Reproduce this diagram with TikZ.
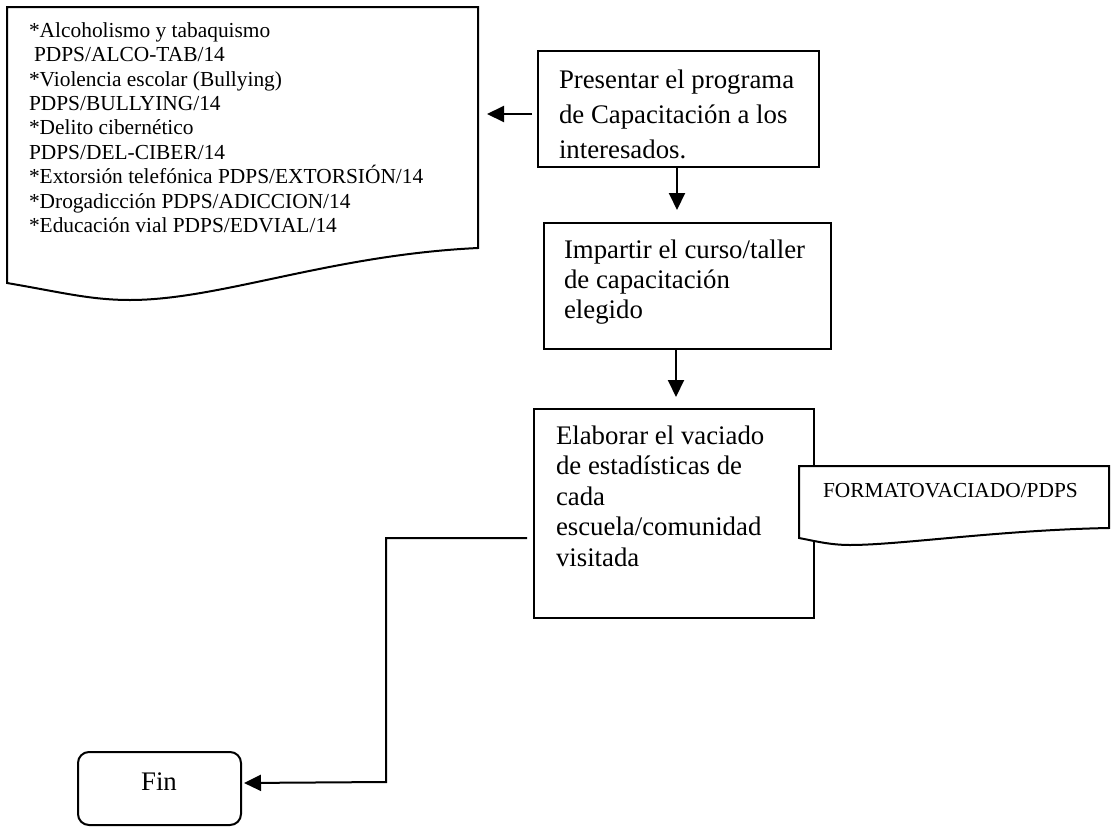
\documentclass[tikz,border=0pt]{standalone}
\usepackage{fontspec}
\setmainfont{Liberation Serif}
\usetikzlibrary{arrows.meta}

\begin{document}
\begin{tikzpicture}[x=1pt,y=-1pt,
  line width=2pt,
  procbox/.style={draw, rectangle, inner sep=0pt, anchor=north west},
  endbox/.style={draw, rectangle, rounded corners=11pt, inner sep=0pt, anchor=north west},
  doclink/.style={inner sep=0pt, anchor=north west},
  bigtext/.style={inner sep=0pt, anchor=north west, align=left, font=\fontsize{26.8pt}{30.5pt}\selectfont},
  smalltext/.style={inner sep=0pt, anchor=north west, align=left, font=\fontsize{21.4pt}{24.4pt}\selectfont},
  arr/.style={-{Triangle[length=17pt,width=16pt]}, line width=2pt}
]
\useasboundingbox[fill=white] (0,0) rectangle (1111,830);

% list of training programmes (document shape)
\draw[fill=white] (7,7) -- (478,7) -- (478,248)
  .. controls (330,255) and (220,300) .. (130,300)
  .. controls (90,300) and (60,292) .. (7,283) -- cycle;
\node[doclink, minimum width=471pt, minimum height=276pt] (doc1) at (7,7) {};
\node[smalltext] (doc1txt) at (28,21.4) {*Alcoholismo y tabaquismo\\
\hspace*{5pt}PDPS/ALCO-TAB/14\\
*Violencia escolar (Bullying)\\
PDPS/BULLYING/14\\
*Delito cibernético\\
PDPS/DEL-CIBER/14\\
*Extorsión telefónica PDPS/EXTORSIÓN/14\\
*Drogadicción PDPS/ADICCION/14\\
*Educación vial PDPS/EDVIAL/14};

% process steps
\node[procbox, minimum width=281pt, minimum height=116pt] (b1) at (537,50) {};
\node[bigtext, font=\fontsize{26.8pt}{35pt}\selectfont] (b1txt) at (558,68.7)
  {Presentar el programa\\de Capacitación a los\\interesados.};

\node[procbox, minimum width=287pt, minimum height=126pt] (b2) at (543,222) {};
\node[bigtext, font=\fontsize{26.8pt}{30pt}\selectfont] (b2txt) at (563,238.7)
  {Impartir el curso/taller\\de capacitación\\elegido};

\node[procbox, minimum width=280pt, minimum height=209pt] (b3) at (533,408) {};
\node[bigtext] (b3txt) at (555,424.7)
  {Elaborar el vaciado\\de estadísticas de\\cada\\escuela/comunidad\\visitada};

% output format (document shape)
\draw[fill=white] (799,466) -- (1109,466) -- (1109,528)
  .. controls (1000,530) and (900,545) .. (850,545)
  .. controls (830,545) and (815,541) .. (799,538) -- cycle;
\node[doclink, minimum width=310pt, minimum height=72pt] (doc2) at (799,466) {};
\node[smalltext] (doc2txt) at (822,482.5) {FORMATOVACIADO/PDPS};

% terminal
\node[endbox, minimum width=163pt, minimum height=73pt] (fin) at (77,751) {};
\node[inner sep=0pt, anchor=base, font=\fontsize{26.8pt}{30pt}\selectfont] (fintxt) at (159,790) {Fin};

% connectors
\coordinate (a1s) at ([yshift=-5pt]b1.west);
\draw[arr, shorten <=5pt, shorten >=7pt] (a1s) -- (a1s -| doc1.east);

\coordinate (a2s) at (677,0);
\draw[arr, shorten >=12pt] (a2s |- b1.south) -- (a2s |- b2.north);
\coordinate (a3x) at (676,0);
\draw[arr, shorten >=11pt] (a3x |- b2.south) -- (a3x |- b3.north);

\coordinate (a4s) at ([yshift=-24.5pt]b3.west);
\coordinate (bend) at (386,782);
\coordinate (finin) at ([yshift=5.5pt]fin.east);
\draw[arr, shorten <=6pt, shorten >=2pt] (a4s) -| (bend) -- (finin);
\end{tikzpicture}
\end{document}
